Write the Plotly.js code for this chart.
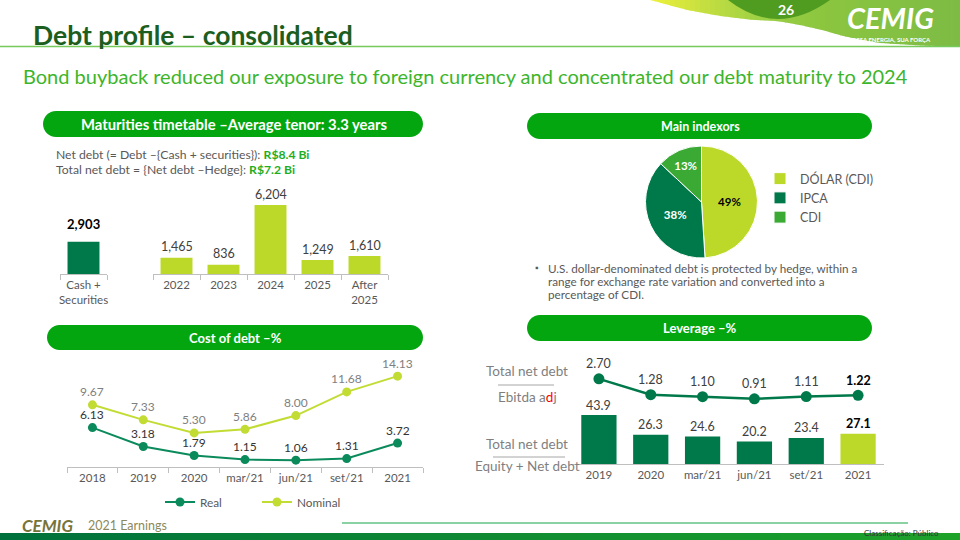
<!DOCTYPE html>
<html><head><meta charset="utf-8">
<script src="https://cdn.plot.ly/plotly-3.0.1.min.js"></script>
<style>html,body{margin:0;padding:0;background:#fff}#chart{width:960px;height:540px}</style>
</head><body><div id="chart"></div>
<script>
// ---- data ----
const cashCats = ['Cash +<br>Securities'];
const cashVals = [2903];
const matCats = ['2022', '2023', '2024', '2025', 'After<br>2025'];
const matVals = [1465, 836, 6204, 1249, 1610];
const pieLabels = ['DÓLAR (CDI)', 'IPCA', 'CDI'];
const pieVals = [49, 38, 13];
const costCats = ['2018', '2019', '2020', 'mar/21', 'jun/21', 'set/21', '2021'];
const realVals = [6.13, 3.18, 1.79, 1.15, 1.06, 1.31, 3.72];
const nominalVals = [9.67, 7.33, 5.30, 5.86, 8.00, 11.68, 14.13];
const levCats = ['2019', '2020', 'mar/21', 'jun/21', 'set/21', '2021'];
const levEquityVals = [43.9, 26.3, 24.6, 20.2, 23.4, 27.1];
const levEbitdaVals = [2.70, 1.28, 1.10, 0.91, 1.11, 1.22];

// ---- helpers ----
const W = 960, H = 540;
const px = x => x / W, py = y => 1 - y / H;
const P = (x, y) => (x / W).toFixed(5) + ',' + (1 - y / H).toFixed(5);
const dom = (a, b) => [a / W, b / W];
const ydom = (top, bottom) => [1 - bottom / H, 1 - top / H];
const F = 'Lato, "DejaVu Sans", sans-serif';
const GRAY = '#595959';
const DARK = '#00794a', LIGHT = '#bcd92a', PILL = '#03a60f';
const fmt = v => v.toLocaleString('en-US');
const fmt2 = v => v.toFixed(2);

function pill(x0, y0, x1, y1) {
  const r = (y1 - y0) / 2, k = 0.5523 * r;
  return `M${P(x0 + r, y0)} L${P(x1 - r, y0)} C${P(x1 - r + k, y0)} ${P(x1, y0 + r - k)} ${P(x1, y0 + r)} ` +
    `C${P(x1, y0 + r + k)} ${P(x1 - r + k, y1)} ${P(x1 - r, y1)} L${P(x0 + r, y1)} ` +
    `C${P(x0 + r - k, y1)} ${P(x0, y0 + r + k)} ${P(x0, y0 + r)} C${P(x0, y0 + r - k)} ${P(x0 + r - k, y0)} ${P(x0 + r, y0)} Z`;
}
function hex2rgb(h) { return [1, 3, 5].map(i => parseInt(h.substr(i, 2), 16)); }
function mix(a, b, t) { const A = hex2rgb(a), B = hex2rgb(b); return 'rgb(' + A.map((v, i) => Math.round(v + (B[i] - v) * t)).join(',') + ')'; }
function interp(pts, x) {
  for (let i = 0; i < pts.length - 1; i++) {
    if (x >= pts[i][0] && x <= pts[i + 1][0]) { const t = (x - pts[i][0]) / (pts[i + 1][0] - pts[i][0]); return pts[i][1] + t * (pts[i + 1][1] - pts[i][1]); }
  }
  return pts[pts.length - 1][1];
}
function colorAt(stops, x) {
  for (let i = 0; i < stops.length - 1; i++) {
    if (x >= stops[i][0] && x <= stops[i + 1][0]) return mix(stops[i][1], stops[i + 1][1], (x - stops[i][0]) / (stops[i + 1][0] - stops[i][0]));
  }
  return stops[stops.length - 1][1];
}

const shapes = [];
// top-right swoosh (decoration)
const swooshB = [[650, 0], [687, 10], [720, 16], [753, 20], [777, 21], [800, 25], [822, 30], [843, 36], [862, 40], [880, 43], [920, 45.5], [960, 47]];
const swooshC = [[650, '#eef23a'], [700, '#c8e040'], [760, '#9dd045'], [820, '#8cc63f'], [960, '#7dbb45']];
for (let x = 650; x < 960; x += 5) {
  const x2 = Math.min(960, x + 5.6);
  shapes.push({type: 'path', xref: 'paper', yref: 'paper', layer: 'below', line: {width: 0}, fillcolor: colorAt(swooshC, x + 2.5),
    path: `M${P(x, 0)} L${P(x2, 0)} L${P(x2, interp(swooshB, x2))} L${P(x, interp(swooshB, x))} Z`});
}
shapes.push({type: 'path', xref: 'paper', yref: 'paper', layer: 'below', line: {width: 0}, fillcolor: '#4f9c21',
  path: `M${P(728, 0)} Q${P(777, 38)} ${P(830, 0)} Z`});
// title underline
shapes.push({type: 'line', xref: 'paper', yref: 'paper', x0: 0, x1: px(960), y0: py(46.5), y1: py(46.5), line: {color: '#76c95a', width: 1.5}});
// pills
[[43, 111, 423, 137], [527, 113, 872, 139], [47, 325, 423, 350], [527, 315, 872, 341]].forEach(b => {
  shapes.push({type: 'path', xref: 'paper', yref: 'paper', layer: 'below', line: {width: 0}, fillcolor: PILL, path: pill(...b)});
});
// leverage fraction lines
shapes.push({type: 'line', xref: 'paper', yref: 'paper', x0: px(498), x1: px(554), y0: py(385), y1: py(385), line: {color: '#a6a6a6', width: 1}});
shapes.push({type: 'line', xref: 'paper', yref: 'paper', x0: px(493), x1: px(565), y0: py(457), y1: py(457), line: {color: '#a6a6a6', width: 1}});
// footer line
shapes.push({type: 'line', xref: 'paper', yref: 'paper', x0: px(342), x1: px(908), y0: py(523), y1: py(523), line: {color: '#63c384', width: 1.5}});
// bottom bar gradient
const barC = [[0, '#00703c'], [960, '#1ea32a']];
for (let x = 0; x < 960; x += 20) {
  shapes.push({type: 'rect', xref: 'paper', yref: 'paper', x0: px(x), x1: px(Math.min(960, x + 20.5)), y0: 0, y1: py(533), line: {width: 0}, fillcolor: colorAt(barC, x + 10)});
}

const A = (o) => Object.assign({showarrow: false, xanchor: 'center', yanchor: 'middle'}, o);
const annotations = [
  A({xref: 'paper', yref: 'paper', x: px(31), y: py(35), xanchor: 'left', text: '<b>Debt profile – consolidated</b>', font: {family: F, size: 26.5, color: '#1b5e20'}}),
  A({xref: 'paper', yref: 'paper', x: px(21), y: py(76), xanchor: 'left', text: 'Bond buyback reduced our exposure to foreign currency and concentrated our debt maturity to 2024', font: {family: F, size: 20, color: '#3db52b'}}),
  A({xref: 'paper', yref: 'paper', x: px(786), y: py(10), text: '<b>26</b>', font: {family: F, size: 14, color: '#ffffff'}}),
  A({xref: 'paper', yref: 'paper', x: px(890), y: py(18), text: '<b><i>CEMIG</i></b>', font: {family: F, size: 29, color: '#ffffff'}}),
  A({xref: 'paper', yref: 'paper', x: px(889), y: py(39.5), text: '<b>NOSSA ENERGIA, SUA FORÇA</b>', font: {family: F, size: 6, color: '#ffffff'}}),
  // pill labels
  A({xref: 'paper', yref: 'paper', x: px(234), y: py(124), text: '<b>Maturities timetable –Average tenor: 3.3 years</b>', font: {family: F, size: 14.8, color: '#ffffff'}}),
  A({xref: 'paper', yref: 'paper', x: px(700), y: py(126), text: '<b>Main indexors</b>', font: {family: F, size: 12.5, color: '#ffffff'}}),
  A({xref: 'paper', yref: 'paper', x: px(235), y: py(338), text: '<b>Cost of debt –%</b>', font: {family: F, size: 13, color: '#ffffff'}}),
  A({xref: 'paper', yref: 'paper', x: px(700), y: py(328), text: '<b>Leverage –%</b>', font: {family: F, size: 13, color: '#ffffff'}}),
  // net debt text
  A({xref: 'paper', yref: 'paper', x: px(54), y: py(155), xanchor: 'left', text: 'Net debt (= Debt –{Cash + securities}): <span style="color:#1fae1f"><b>R$8.4 Bi</b></span>', font: {family: F, size: 12.2, color: GRAY}}),
  A({xref: 'paper', yref: 'paper', x: px(54), y: py(169.5), xanchor: 'left', text: 'Total net debt = {Net debt –Hedge}: <span style="color:#1fae1f"><b>R$7.2 Bi</b></span>', font: {family: F, size: 12.2, color: GRAY}}),
  // bullet
  A({xref: 'paper', yref: 'paper', x: px(537), y: py(268), text: '▪', font: {family: F, size: 9, color: GRAY}}),
  A({xref: 'paper', yref: 'paper', x: px(546), y: py(268), xanchor: 'left', text: 'U.S. dollar-denominated debt is protected by hedge, within a', font: {family: F, size: 11.7, color: GRAY}}),
  A({xref: 'paper', yref: 'paper', x: px(546), y: py(281), xanchor: 'left', text: 'range for exchange rate variation and converted into a', font: {family: F, size: 11.7, color: GRAY}}),
  A({xref: 'paper', yref: 'paper', x: px(546), y: py(294), xanchor: 'left', text: 'percentage of CDI.', font: {family: F, size: 11.7, color: GRAY}}),
  // leverage fractions
  A({xref: 'paper', yref: 'paper', x: px(527), y: py(371), text: 'Total net debt', font: {family: F, size: 13.5, color: '#7f7f7f'}}),
  A({xref: 'paper', yref: 'paper', x: px(527), y: py(397), text: 'Ebitda a<span style="color:#ff0000">d</span>j', font: {family: F, size: 13.5, color: '#7f7f7f'}}),
  A({xref: 'paper', yref: 'paper', x: px(527), y: py(444), text: 'Total net debt', font: {family: F, size: 13.5, color: '#7f7f7f'}}),
  A({xref: 'paper', yref: 'paper', x: px(527), y: py(466), text: 'Equity + Net debt', font: {family: F, size: 13.5, color: '#7f7f7f'}}),
  // footer
  A({xref: 'paper', yref: 'paper', x: px(20), y: py(525), xanchor: 'left', text: '<b><i>CEMIG</i></b>', font: {family: F, size: 17, color: '#77743a'}}),
  A({xref: 'paper', yref: 'paper', x: px(86), y: py(525), xanchor: 'left', text: '2021 Earnings', font: {family: F, size: 12.5, color: '#8c8a5a'}}),
  A({xref: 'paper', yref: 'paper', x: px(862), y: py(533), xanchor: 'left', text: 'Classificação: Público', font: {family: F, size: 8, color: '#333333'}})
];
// data labels placed through the category axes (x = category index)
cashVals.forEach((v, i) => annotations.push(A({xref: 'x', yref: 'y', x: i, y: v, yshift: 18, text: '<b>' + fmt(v) + '</b>', font: {family: F, size: 13, color: '#000000'}})));
matVals.forEach((v, i) => annotations.push(A({xref: 'x2', yref: 'y2', x: i, y: v, yshift: 11, text: fmt(v), font: {family: F, size: 12.5, color: '#404040'}})));
realVals.forEach((v, i) => annotations.push(A({xref: 'x3', yref: 'y3', x: i, y: v, yshift: 13, text: fmt2(v), font: {family: F, size: 12, color: '#333333'}})));
nominalVals.forEach((v, i) => annotations.push(A({xref: 'x3', yref: 'y3', x: i, y: v, yshift: 13, text: fmt2(v), font: {family: F, size: 12, color: '#808080'}})));
levEquityVals.forEach((v, i) => {
  const last = i === levEquityVals.length - 1;
  annotations.push(A({xref: 'x4', yref: 'y4', x: i, y: v, yshift: 10, text: last ? '<b>' + v.toFixed(1) + '</b>' : v.toFixed(1), font: {family: F, size: 12.5, color: last ? '#000000' : '#404040'}}));
});
levEbitdaVals.forEach((v, i) => {
  const last = i === levEbitdaVals.length - 1;
  annotations.push(A({xref: 'x5', yref: 'y5', x: i, y: v, yshift: 15, text: last ? '<b>' + fmt2(v) + '</b>' : fmt2(v), font: {family: F, size: 12.5, color: last ? '#000000' : '#404040'}}));
});

const tickAxis = (d, anchor, ticks, n) => ({
  domain: d, anchor: anchor, type: 'category', range: [-0.5, n - 0.5], autorange: false,
  showline: true, linecolor: '#bfbfbf', linewidth: 1, tickangle: 0,
  ticks: ticks ? 'outside' : '', tickson: 'boundaries', ticklen: 5, tickcolor: '#bfbfbf',
  tickfont: {family: F, size: 11.5, color: GRAY}, showgrid: false, zeroline: false, fixedrange: true
});
const hid = (d, r) => ({domain: d, range: r, autorange: false, visible: false, showgrid: false, zeroline: false, fixedrange: true});

const data = [
  {type: 'bar', x: cashCats, y: cashVals, xaxis: 'x', yaxis: 'y', marker: {color: DARK}, showlegend: false, hoverinfo: 'skip'},
  {type: 'bar', x: matCats, y: matVals, xaxis: 'x2', yaxis: 'y2', marker: {color: LIGHT}, showlegend: false, hoverinfo: 'skip'},
  {type: 'pie', labels: pieLabels, values: pieVals, sort: false, direction: 'clockwise', rotation: 0,
    domain: {x: dom(645, 758), y: ydom(146, 258)}, marker: {colors: [LIGHT, DARK, '#3aaa35'], line: {color: '#ffffff', width: 1}},
    textinfo: 'percent', textposition: 'inside', insidetextorientation: 'horizontal',
    textfont: {family: F, size: 11.5, weight: 'bold', color: ['#000000', '#ffffff', '#ffffff']}, legend: 'legend', hoverinfo: 'skip'},
  {type: 'scatter', mode: 'lines+markers', name: 'Real', x: costCats, y: realVals, xaxis: 'x3', yaxis: 'y3',
    line: {color: '#0b8a5c', width: 2}, marker: {size: 9, color: '#0b8a5c'}, legend: 'legend2', hoverinfo: 'skip', cliponaxis: false},
  {type: 'scatter', mode: 'lines+markers', name: 'Nominal', x: costCats, y: nominalVals, xaxis: 'x3', yaxis: 'y3',
    line: {color: '#c3dc34', width: 2}, marker: {size: 9, color: '#c3dc34'}, legend: 'legend2', hoverinfo: 'skip', cliponaxis: false},
  {type: 'bar', x: levCats, y: levEquityVals, xaxis: 'x4', yaxis: 'y4',
    marker: {color: levCats.map((c, i) => i === levCats.length - 1 ? LIGHT : DARK)}, showlegend: false, hoverinfo: 'skip'},
  {type: 'scatter', mode: 'lines+markers', x: levCats, y: levEbitdaVals, xaxis: 'x5', yaxis: 'y5',
    line: {color: DARK, width: 2.5}, marker: {size: 11, color: DARK}, showlegend: false, hoverinfo: 'skip', cliponaxis: false}
];

const layout = {
  width: W, height: H, margin: {l: 0, r: 0, t: 0, b: 0}, paper_bgcolor: '#ffffff', plot_bgcolor: 'rgba(0,0,0,0)',
  hovermode: false, bargap: 0.32, font: {family: F, color: GRAY},
  xaxis: tickAxis(dom(60, 107), 'y', true, cashCats.length),
  yaxis: hid(ydom(190, 274), [0, 7553]),
  xaxis2: tickAxis(dom(153, 388), 'y2', true, matCats.length),
  yaxis2: hid(ydom(190, 274), [0, 7553]),
  xaxis3: tickAxis(dom(67, 423), 'y3', true, costCats.length),
  yaxis3: hid(ydom(355, 467), [0, 112 / 6.43]),
  xaxis4: tickAxis(dom(573, 884), 'y4', false, levCats.length),
  yaxis4: hid(ydom(400, 464), [0, 64 / 1.116]),
  xaxis5: {domain: dom(573, 884), anchor: 'y5', type: 'category', range: [-0.5, levCats.length - 0.5], autorange: false, visible: false, fixedrange: true},
  yaxis5: hid(ydom(350, 409), [0, 59 / 11.17]),
  legend: {x: px(760), y: py(164), xanchor: 'left', yanchor: 'top', itemwidth: 30, bgcolor: 'rgba(0,0,0,0)', font: {family: F, size: 12.5, color: GRAY}},
  legend2: {orientation: 'h', x: px(160), y: py(502), xanchor: 'left', yanchor: 'middle', entrywidth: 52, entrywidthmode: 'pixels', bgcolor: 'rgba(0,0,0,0)', font: {family: F, size: 11.8, color: GRAY}},
  shapes: shapes, annotations: annotations
};
Plotly.newPlot('chart', data, layout, {displayModeBar: false, staticPlot: true});
</script></body></html>
